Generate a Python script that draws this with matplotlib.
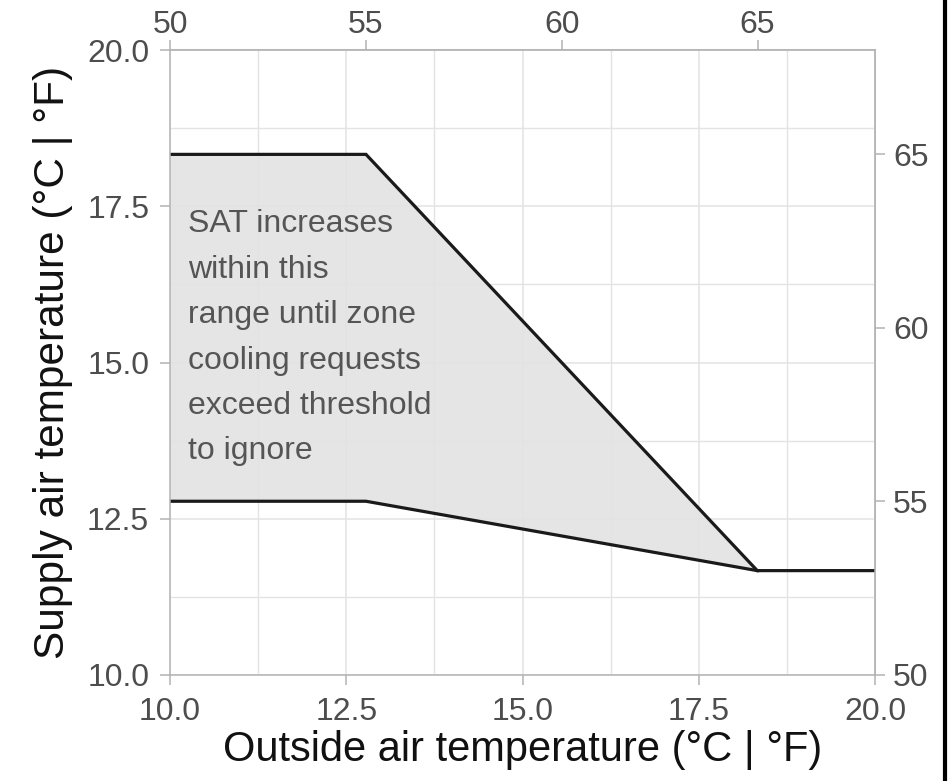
import matplotlib
matplotlib.use("Agg")
import matplotlib.pyplot as plt
from matplotlib.lines import Line2D
from matplotlib.ticker import FixedLocator
import numpy as np

# ---- data (°C) ----
oat_upper = [10.0, 12.78, 18.33, 20.0]
sat_upper = [18.33, 18.33, 11.67, 11.67]
oat_lower = [10.0, 12.78, 18.33]
sat_lower = [12.78, 12.78, 11.67]

x_ticks_c = [10.0, 12.5, 15.0, 17.5, 20.0]
y_ticks_c = [10.0, 12.5, 15.0, 17.5, 20.0]
minor_ticks_c = [11.25, 13.75, 16.25, 18.75]
f_ticks_top = [50, 55, 60, 65]
f_ticks_right = [50, 55, 60, 65]

annotation = ("SAT increases\nwithin this\nrange until zone\n"
              "cooling requests\nexceed threshold\nto ignore")
x_label = "Outside air temperature (°C | °F)"
y_label = "Supply air temperature (°C | °F)"

plt.rcParams["font.family"] = ["Liberation Sans", "DejaVu Sans"]

TICK_COLOR = "#4d4d4d"
SPINE_COLOR = "#b3b3b3"
GRID_COLOR = "#e3e3e3"

fig = plt.figure(figsize=(9.5, 7.81), dpi=100)
ax = fig.add_axes([170 / 950, 106 / 781, 705 / 950, 625 / 781])

ax.set_xlim(10, 20)
ax.set_ylim(10, 20)

# fill and lines
upper_at_lower = np.interp(oat_lower, oat_upper, sat_upper)
ax.fill_between(oat_lower, sat_lower, upper_at_lower, color="#e5e5e5", lw=0, zorder=1)
ax.plot(oat_upper, sat_upper, color="#1a1a1a", lw=2.3, zorder=3, solid_joinstyle="miter")
ax.plot(oat_lower, sat_lower, color="#1a1a1a", lw=2.3, zorder=3, solid_joinstyle="miter")

# grid
ax.xaxis.set_major_locator(FixedLocator(x_ticks_c))
ax.yaxis.set_major_locator(FixedLocator(y_ticks_c))
ax.xaxis.set_minor_locator(FixedLocator(minor_ticks_c))
ax.yaxis.set_minor_locator(FixedLocator(minor_ticks_c))
ax.grid(True, which="major", color=GRID_COLOR, lw=1.1, zorder=2)
ax.grid(True, which="minor", color=GRID_COLOR, lw=1.0, zorder=2)
ax.set_axisbelow(False)
for gl in ax.get_xgridlines() + ax.get_ygridlines():
    gl.set_zorder(2)
ax.tick_params(which="minor", length=0)
ax.set_xticklabels([f"{v:.1f}" for v in x_ticks_c])
ax.set_yticklabels([f"{v:.1f}" for v in y_ticks_c])
ax.tick_params(which="major", direction="out", length=7, width=1.1,
               color=SPINE_COLOR, labelcolor=TICK_COLOR, labelsize=23)
ax.tick_params(axis="x", pad=9)
ax.tick_params(axis="y", pad=8)

for s in ax.spines.values():
    s.set_color(SPINE_COLOR)
    s.set_linewidth(1.1)
    s.set_zorder(4)

# secondary axes (°F)
def c2f(c):
    return np.asarray(c) * 9 / 5 + 32

def f2c(f):
    return (np.asarray(f) - 32) * 5 / 9

secx = ax.secondary_xaxis("top", functions=(c2f, f2c))
secx.set_xticks(f_ticks_top)
secx.set_xticklabels([str(v) for v in f_ticks_top])
secx.tick_params(direction="out", length=7, width=1.1, color=SPINE_COLOR,
                 labelcolor=TICK_COLOR, labelsize=23, pad=0)
secy = ax.secondary_yaxis("right", functions=(c2f, f2c))
secy.set_yticks(f_ticks_right)
secy.set_yticklabels([str(v) for v in f_ticks_right])
secy.tick_params(direction="out", length=7, width=1.1, color=SPINE_COLOR,
                 labelcolor=TICK_COLOR, labelsize=23, pad=6)
for sa in (secx, secy):
    for s in sa.spines.values():
        s.set_color(SPINE_COLOR)
        s.set_linewidth(1.1)

# annotation
ax.text(10.26, 17.45, annotation, ha="left", va="top", fontsize=23,
        color="#555555", linespacing=1.67, zorder=5)

ax.set_xlabel(x_label, fontsize=30, color="#111111", labelpad=2)
ax.set_ylabel(y_label, fontsize=30.5, color="#111111", labelpad=10)

# figure border on the right
fig.add_artist(Line2D([945 / 950, 945 / 950], [0, 1], transform=fig.transFigure,
                      color="black", lw=3))

fig.savefig("out.png", dpi=100, facecolor="white")
